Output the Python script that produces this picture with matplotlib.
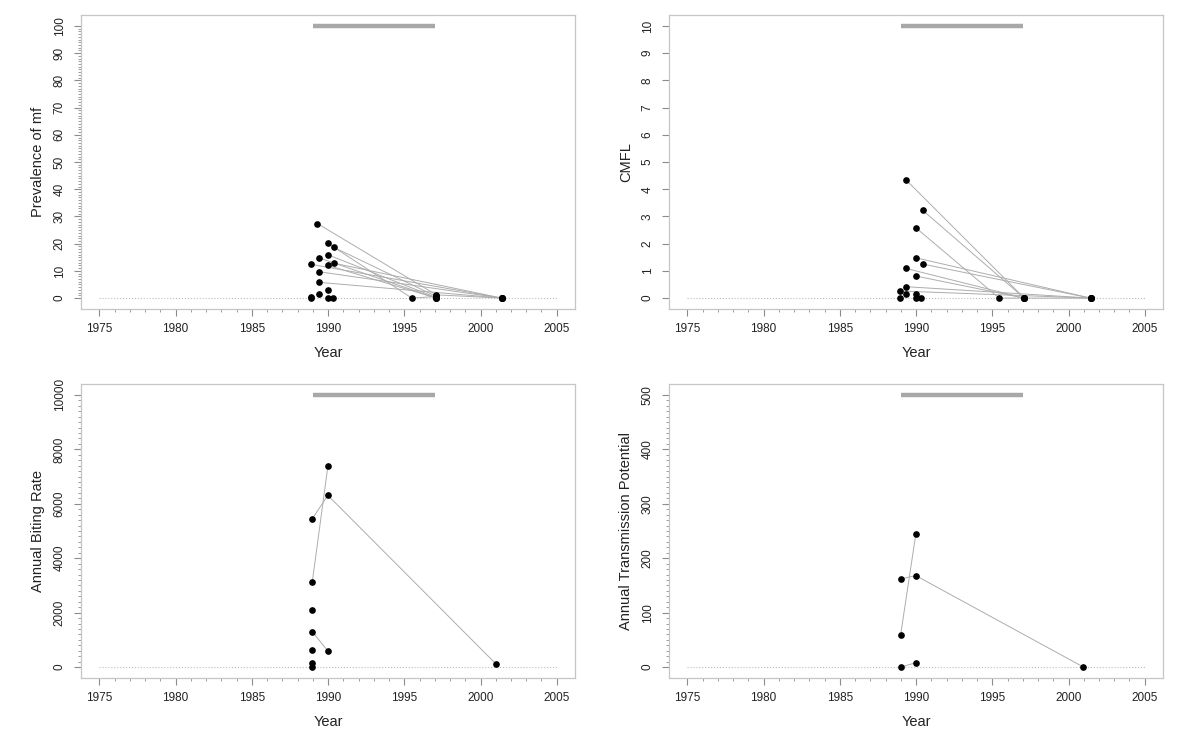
import matplotlib
matplotlib.use("Agg")
import matplotlib.pyplot as plt
import numpy as np

plt.rcParams["font.family"] = ["Liberation Sans", "DejaVu Sans"]

LINE = "#adadad"
BAR = "#a8a8a8"
BOX = "#c6c6c6"
TICK = "#8c8c8c"
TXT = "#222222"

# MDA period bar drawn at the top of every panel
MDA_START, MDA_END = 1989, 1997

# --- Prevalence of mf (%), one entry per village (years, values) ---
PREV_YEARS = [
    [1989.3, 1997.1, 2001.4], [1990.0, 1995.5, 1997.1], [1990.4, 1997.1],
    [1990.0, 1997.1], [1989.4, 1997.1], [1988.9, 2001.4], [1990.0, 1997.1],
    [1990.4, 2001.4], [1989.4, 2001.4], [1989.4, 2001.4],
    [1989.4], [1988.9], [1988.9], [1990.0], [1990.0], [1990.3],
]
PREV_VALS = [
    [27.4, 1.2, 0.0], [20.1, 0.0, 0.6], [18.6, 0.6],
    [15.9, 0.2], [14.8, 0.0], [12.4, 0.0], [12.0, 0.0],
    [12.8, 0.0], [9.7, 0.0], [5.8, 0.0],
    [1.4], [0.5], [0.1], [3.1], [0.0], [0.0],
]

# --- CMFL ---
CMFL_YEARS = [
    [1989.35, 1997.1], [1990.45, 1997.1], [1990.0, 1995.45, 1997.1],
    [1990.0, 2001.45], [1990.45, 2001.45], [1989.35, 1997.1, 2001.45],
    [1990.0, 1997.1], [1989.35, 2001.45], [1988.96, 2001.45],
    [1989.35], [1990.0], [1988.96], [1990.0], [1990.35],
]
CMFL_VALS = [
    [4.34, 0.0], [3.22, 0.0], [2.58, 0.0, 0.0],
    [1.48, 0.0], [1.25, 0.0], [1.09, 0.0, 0.0],
    [0.81, 0.0], [0.42, 0.0], [0.26, 0.0],
    [0.16], [0.16], [0.0], [0.0], [0.0],
]

# --- Annual Biting Rate ---
ABR_YEARS = [
    [1988.97, 1989.99], [1988.97, 1989.99, 2001.0], [1988.97, 1989.99],
    [1988.97], [1988.97], [1988.97], [1988.97],
]
ABR_VALS = [
    [3136, 7378], [5452, 6311, 123], [1298, 588],
    [2107], [625], [135], [20],
]

# --- Annual Transmission Potential ---
ATP_YEARS = [[1988.99, 1989.99], [1988.99, 1989.99, 2000.98], [1988.99, 1989.99]]
ATP_VALS = [[59, 245], [162, 168, 0], [0, 8]]

PANELS = [
    ("Prevalence of mf", PREV_YEARS, PREV_VALS, 100, 10, 1),
    ("CMFL", CMFL_YEARS, CMFL_VALS, 10, 1, None),
    ("Annual Biting Rate", ABR_YEARS, ABR_VALS, 10000, 2000, 200),
    ("Annual Transmission Potential", ATP_YEARS, ATP_VALS, 500, 100, 10),
]

RECTS = [
    [0.0675, 0.5858, 0.4117, 0.394],
    [0.5575, 0.5858, 0.4117, 0.394],
    [0.0675, 0.0912, 0.4117, 0.394],
    [0.5575, 0.0912, 0.4117, 0.394],
]

fig = plt.figure(figsize=(12, 7.46), dpi=100)

for rect, (ylab, years, vals, ymax, step, minor) in zip(RECTS, PANELS):
    ax = fig.add_axes(rect)
    ax.set_xlim(1973.8, 2006.2)
    ax.set_ylim(-0.04 * ymax, 1.04 * ymax)

    # reference line at zero and the MDA bar
    ax.plot([1975, 2005], [0, 0], ls=":", color="#bdbdbd", lw=0.8, zorder=1)
    ax.plot([MDA_START, MDA_END], [ymax, ymax], color=BAR, lw=3.2,
            solid_capstyle="butt", zorder=2)

    for xs, ys in zip(years, vals):
        if len(xs) > 1:
            ax.plot(xs, ys, color=LINE, lw=0.7, zorder=2)
        ax.plot(xs, ys, "o", ls="none", ms=3.8, color="black", zorder=3)

    ax.set_xticks(range(1975, 2006, 5))
    ax.set_xticks(range(1975, 2006), minor=True)
    ax.set_yticks(np.arange(0, ymax + step / 2, step))
    if minor:
        ax.set_yticks(np.arange(0, ymax + minor / 2, minor), minor=True)

    ax.tick_params(which="major", length=5, width=0.8, color=TICK,
                   labelsize=8.5, labelcolor=TXT)
    ax.tick_params(which="minor", length=2.5, width=0.6, color=TICK)
    ax.tick_params(axis="x", pad=5)
    ax.tick_params(axis="y", labelrotation=90, pad=6)
    for lbl in ax.get_yticklabels():
        lbl.set_va("center")

    for sp in ax.spines.values():
        sp.set_color(BOX)
        sp.set_linewidth(0.9)

    ax.set_xlabel("Year", fontsize=10.5, color=TXT)
    ax.xaxis.set_label_coords(0.5, -0.125)
    ax.set_ylabel(ylab, fontsize=10.5, color=TXT)
    ax.yaxis.set_label_coords(-0.072, 0.5)

fig.savefig("out.png", dpi=100)
